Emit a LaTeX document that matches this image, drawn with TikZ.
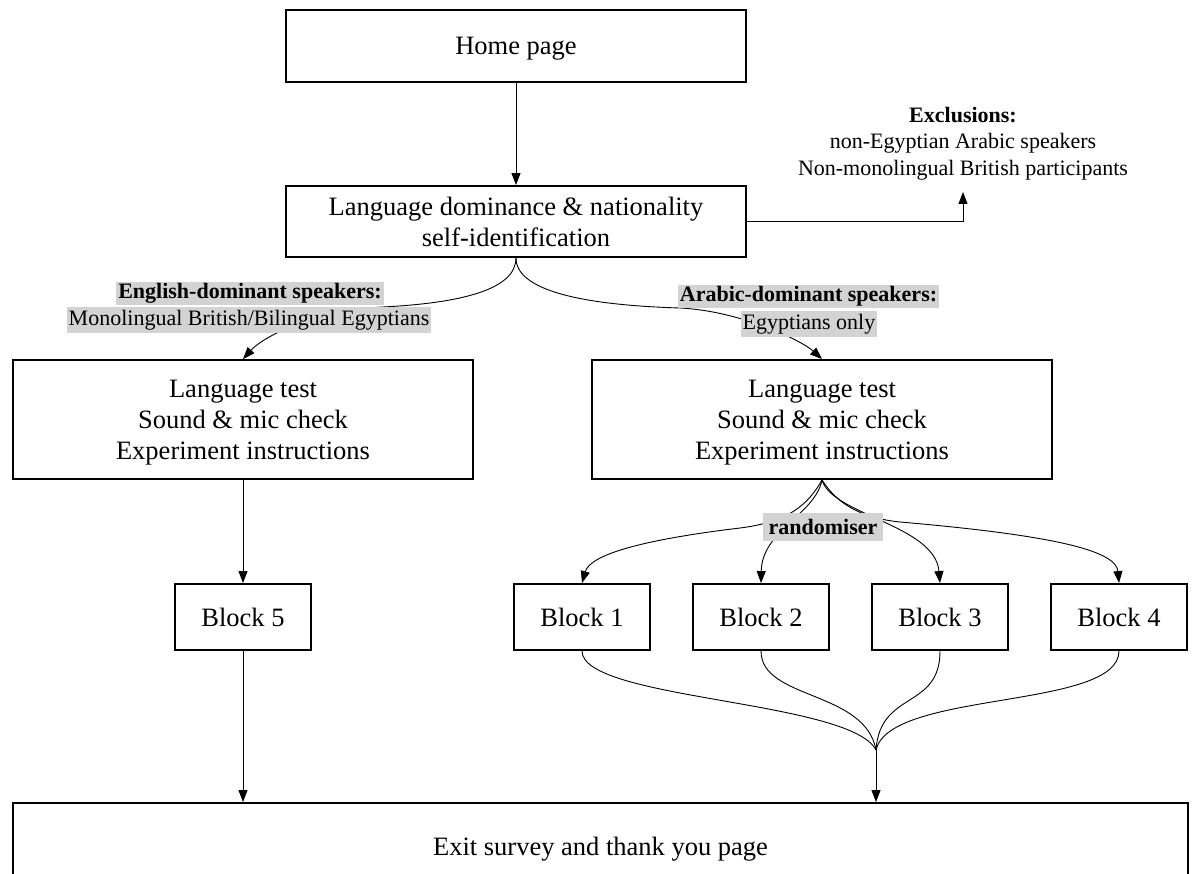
\documentclass[tikz,border=0pt]{standalone}
\usepackage{fontspec}
\setmainfont{Liberation Serif}
\usetikzlibrary{arrows.meta}
\definecolor{labelgray}{RGB}{211,211,211}
\begin{document}
\begin{tikzpicture}[x=1pt,y=-1pt,
		box/.style={draw,line width=1.9pt,align=center,inner sep=0pt,text depth=0pt,font=\fontsize{26.5}{31}\selectfont},
		block/.style={box,minimum width=136pt,minimum height=66pt},
		edge/.style={line width=0.9pt,-{Triangle[length=12pt,width=9pt]}},
		plain/.style={line width=0.9pt},
		note/.style={align=center,inner xsep=0pt,inner ysep=12pt,font=\fontsize{22}{26.5}\selectfont},
		tag/.style={fill=labelgray,inner xsep=2pt,inner ysep=0pt,font=\fontsize{22}{26}\selectfont},
		tagbold/.style={tag,font=\fontsize{22}{26}\selectfont\bfseries}]
	\useasboundingbox(0,0)rectangle(1194,874);
	\fill[white](0,0)rectangle(1194,874);
	% boxes
	\node[box,minimum width=460pt,minimum height=72pt](home)at(516,46){Home page};
	\node[box,minimum width=460pt,minimum height=71pt](lang)at(516,221.5){Language dominance \& nationality\\self-identification};
	\node[note,anchor=south](excl)at(963,192){\textbf{Exclusions:}\\non-Egyptian Arabic speakers\\Non-monolingual British participants};
	\node[box,minimum width=460pt,minimum height=119pt](lt1)at(243,419.5){Language test\\Sound \& mic check\\Experiment instructions};
	\node[box,minimum width=460pt,minimum height=119pt](lt2)at(822,419.5){Language test\\Sound \& mic check\\Experiment instructions};
	\node[block](block5)at(243,617){Block 5};
	\foreach \i/\x in {1/582,2/761,3/940,4/1119}
		\node[block](block\i)at(\x,617){Block \i};
	\node[box,text depth=5.75pt,minimum width=1175pt,minimum height=92pt](exit)at(600.5,849){Exit survey and thank you page};
	% connectors
	\draw[edge](home)--(lang);
	\draw[edge](lang.east)-|(excl.south);
	\draw[edge](lang.south)..controls(516,290)and(460,303)..(383,307)..controls(310,311)and(262,338)..(lt1.north);
	\draw[edge](lang.south)..controls(516,290)and(580,305)..(680,308)..controls(740,311)and(801,340)..(lt2.north);
	\draw[edge](lt1)--(block5);
	\draw[edge](lt2.south)..controls(808,505)and(788,522)..(740,528)..controls(640,540)and(590,555)..(block1.north);
	\draw[edge](lt2.south)..controls(815,515)and(762,530)..(block2.north);
	\draw[edge](lt2.south)..controls(832,515)and(935,525)..(block3.north);
	\draw[edge](lt2.south)..controls(838,505)and(862,518)..(900,522)..controls(1050,535)and(1116,550)..(block4.north);
	\coordinate(merge)at(876,750);
	\draw[plain](block1.south)..controls(582,700)and(850,700)..(merge);
	\draw[plain](block2.south)..controls(761,700)and(865,690)..(merge);
	\draw[plain](block3.south)..controls(940,710)and(880,690)..(merge);
	\draw[plain](block4.south)..controls(1119,710)and(890,690)..(merge);
	\draw[edge](merge)--(merge|-exit.north);
	\draw[edge](block5)--(block5|-exit.north);
	% labels on top of the curves
	\node[tagbold,minimum height=23pt](engtop)at(250,293.5){English-dominant speakers:};
	\node[tag,minimum height=26pt](engsub)at(249,320){Monolingual British/Bilingual Egyptians};
	\node[tagbold,minimum height=23pt](arabtop)at(808.5,296.5){Arabic-dominant speakers:};
	\node[tag,minimum height=26pt](arabsub)at(809,324.5){Egyptians only};
	\node[tagbold,inner xsep=6pt,minimum height=28pt](rand)at(823,527){randomiser};
\end{tikzpicture}
\end{document}
